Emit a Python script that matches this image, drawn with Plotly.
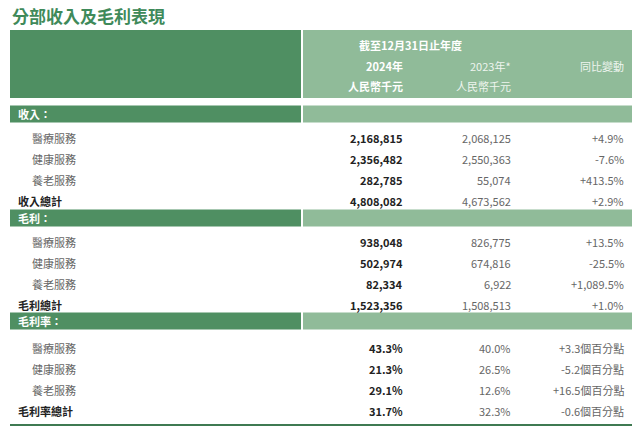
import plotly.graph_objects as go

# 資料
sections = ["收入：", "毛利：", "毛利率："]
items = ["醫療服務", "健康服務", "養老服務"]
totals = ["收入總計", "毛利總計", "毛利率總計"]
v2024 = [["2,168,815", "2,356,482", "282,785", "4,808,082"],
         ["938,048", "502,974", "82,334", "1,523,356"],
         ["43.3%", "21.3%", "29.1%", "31.7%"]]
v2023 = [["2,068,125", "2,550,363", "55,074", "4,673,562"],
         ["826,775", "674,816", "6,922", "1,508,513"],
         ["40.0%", "26.5%", "12.6%", "32.3%"]]
change = [["+4.9%", "-7.6%", "+413.5%", "+2.9%"],
          ["+13.5%", "-25.5%", "+1,089.5%", "+1.0%"],
          ["+3.3個百分點", "-5.2個百分點", "+16.5個百分點", "-0.6個百分點"]]

DARK = "#4f8f62"
LIGHT = "#90bb99"
FONT = "Noto Sans CJK TC"
X24, X23, XCH = 405, 513, 626
SEC_Y = [114, 218, 321]
FIRST_Y = [138, 242, 348]

fig = go.Figure()
shapes, ann = [], []

def text(x, y, s, size=11, color="#333", bold=False, anchor="right"):
    ann.append(dict(x=x, y=y, text=f"<b>{s}</b>" if bold else s, showarrow=False,
                    xanchor=anchor, yanchor="middle",
                    font=dict(family=FONT, size=size, color=color)))

text(10, 15, "分部收入及毛利表現", size=17, color="#3f8a5a", bold=True, anchor="left")
shapes += [dict(type="rect", x0=10, x1=301, y0=30, y1=98, fillcolor=DARK, line_width=0),
           dict(type="rect", x0=303, x1=632, y0=30, y1=98, fillcolor=LIGHT, line_width=0)]
text(410, 45, "截至12月31日止年度", color="white", bold=True, anchor="center")
text(X24, 66, "2024年", color="white", bold=True)
text(X24, 86, "人民幣千元", color="white", bold=True)
text(X23, 66, "2023年*", color="#eef5ef")
text(X23, 86, "人民幣千元", color="#eef5ef")
text(XCH, 66, "同比變動", color="#eef5ef")

for si, sec in enumerate(sections):
    y = SEC_Y[si]
    shapes += [dict(type="rect", x0=10, x1=301, y0=y - 8.5, y1=y + 8.5, fillcolor=DARK, line_width=0),
               dict(type="rect", x0=303, x1=632, y0=y - 8.5, y1=y + 8.5, fillcolor=LIGHT, line_width=0)]
    text(16, y, sec, color="white", bold=True, anchor="left")
    for i, name in enumerate(items + [totals[si]]):
        ry = FIRST_Y[si] + 21 * i
        tot = i == 3
        text(16 if tot else 30, ry, name, color="#222" if tot else "#666", bold=tot, anchor="left")
        text(X24, ry, v2024[si][i], color="#222", bold=True)
        text(X23, ry, v2023[si][i], color="#666")
        text(XCH, ry, change[si][i], color="#666")
shapes.append(dict(type="line", x0=10, x1=632, y0=425, y1=425, line=dict(color="#3f7a52", width=2)))

# the page body adds an 8px offset, so shift the ranges to compensate
fig.update_layout(width=640, height=432, margin=dict(l=0, r=0, t=0, b=0),
                  plot_bgcolor="white", paper_bgcolor="white",
                  xaxis=dict(range=[8, 648], visible=False),
                  yaxis=dict(range=[440, 8], visible=False),
                  shapes=shapes, annotations=ann, showlegend=False)
fig.write_html("out.html")
